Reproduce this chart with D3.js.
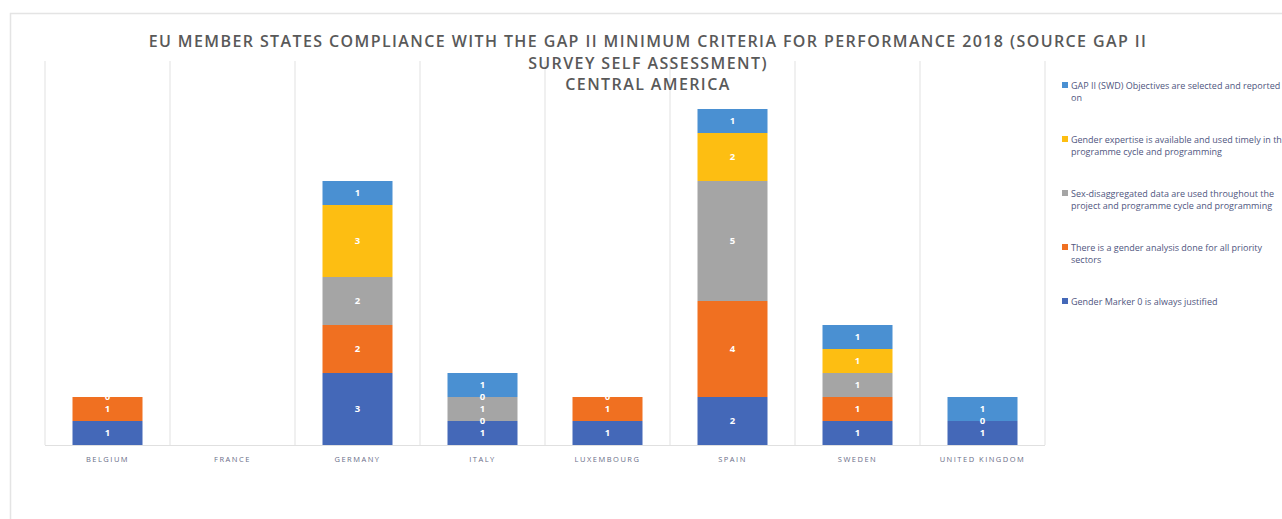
<!DOCTYPE html>
<html>
<head>
<meta charset="utf-8">
<script src="https://cdn.jsdelivr.net/npm/d3@7"></script>
<style>
  body { margin: 0; background: #fff; }
  svg { display: block; }
</style>
</head>
<body>
<svg id="chart" width="1282" height="519"></svg>
<script>
const countries = ["BELGIUM", "FRANCE", "GERMANY", "ITALY", "LUXEMBOURG", "SPAIN", "SWEDEN", "UNITED KINGDOM"];

// null = no answer (no label shown), 0 = zero answer (label shown)
const genderMarker = [1, null, 3, 1, 1, 2, 1, 1];
const genderAnalysis = [1, null, 2, 0, 1, 4, 1, 0];
const sexData = [0, null, 2, 1, 0, 5, 1, null];
const expertise = [null, null, 3, 0, null, 2, 1, null];
const objectives = [null, null, 1, 1, null, 1, 1, 1];

const legendLines = [
    ["Gender Marker 0 is always justified"],
    ["There is a gender analysis done for all priority", "sectors"],
    ["Sex-disaggregated  data are used throughout the", "project and programme cycle and programming"],
    ["Gender expertise is available and used timely in the", "programme cycle and programming"],
    ["GAP II (SWD) Objectives are selected and reported", "on"]
];
const colors = ["#4468b8", "#f07021", "#a5a5a5", "#fdbe12", "#4a90d2"];
const titleLines = [
    "EU MEMBER STATES COMPLIANCE WITH THE GAP II MINIMUM CRITERIA FOR PERFORMANCE 2018 (SOURCE GAP II",
    "SURVEY SELF ASSESSMENT)",
    "CENTRAL AMERICA"
];

const allSeries = [genderMarker, genderAnalysis, sexData, expertise, objectives];
const rows = countries.map((c, i) => {
    const r = { country: c };
    allSeries.forEach((s, k) => { r["s" + k] = s[i]; });
    return r;
});
const keys = allSeries.map((s, k) => "s" + k);

const svg = d3.select("#chart");

// outer chart border
svg.append("rect")
    .attr("x", 10.5).attr("y", 13.5)
    .attr("width", 1290).attr("height", 520)
    .attr("fill", "none")
    .attr("stroke", "#e4e4e4")
    .attr("stroke-width", 1.5);

const plot = { left: 45, right: 1045, top: 61, bottom: 445 };

const x = d3.scaleBand()
    .domain(countries)
    .range([plot.left, plot.right])
    .paddingInner(0.44)
    .paddingOuter(0.22);

const y = d3.scaleLinear()
    .domain([0, 16])
    .range([plot.bottom, plot.top]);

// vertical category gridlines
const step = (plot.right - plot.left) / countries.length;
svg.append("g")
    .selectAll("line")
    .data(d3.range(countries.length + 1))
    .join("line")
    .attr("x1", i => plot.left + i * step)
    .attr("x2", i => plot.left + i * step)
    .attr("y1", plot.top)
    .attr("y2", plot.bottom)
    .attr("stroke", "#e6e6e6")
    .attr("stroke-width", 1.2);

const stack = d3.stack()
    .keys(keys)
    .value((d, k) => d[k] || 0);
const stacked = stack(rows);

const layers = svg.append("g")
    .selectAll("g")
    .data(stacked)
    .join("g")
    .attr("fill", (d, i) => colors[i]);

layers.selectAll("rect")
    .data(d => d)
    .join("rect")
    .attr("x", d => x(d.data.country))
    .attr("width", x.bandwidth())
    .attr("y", d => y(d[1]))
    .attr("height", d => y(d[0]) - y(d[1]));

// data labels
const labels = svg.append("g")
    .attr("font-family", "'Open Sans', sans-serif")
    .attr("font-size", 9.5)
    .attr("font-weight", 700)
    .attr("fill", "#ffffff")
    .attr("text-anchor", "middle");

stacked.forEach((layer, k) => {
    labels.selectAll(null)
        .data(layer.filter(d => d.data[keys[k]] !== null))
        .join("text")
        .attr("x", d => x(d.data.country) + x.bandwidth() / 2)
        .attr("y", d => y((d[0] + d[1]) / 2))
        .attr("dy", "0.35em")
        .text(d => d.data[keys[k]]);
});

// baseline
svg.append("line")
    .attr("x1", plot.left).attr("x2", plot.right)
    .attr("y1", plot.bottom + 0.5).attr("y2", plot.bottom + 0.5)
    .attr("stroke", "#e0e0e0")
    .attr("stroke-width", 1.2);

// x axis
const xAxis = svg.append("g")
    .attr("transform", `translate(0,${plot.bottom})`)
    .call(d3.axisBottom(x).tickSize(0).tickPadding(12));
xAxis.select(".domain").remove();
xAxis.selectAll("text")
    .attr("font-family", "'Open Sans', sans-serif")
    .attr("font-size", 7.5)
    .attr("letter-spacing", "1.5px")
    .attr("fill", "#6a6e88");

// title
svg.append("g")
    .selectAll("text")
    .data(titleLines)
    .join("text")
    .attr("x", 648)
    .attr("y", (d, i) => 47 + i * 21.5)
    .attr("text-anchor", "middle")
    .attr("font-family", "'Open Sans', sans-serif")
    .attr("font-size", 16)
    .attr("font-weight", 600)
    .attr("letter-spacing", "1.4px")
    .attr("fill", "#595959")
    .text(d => d);

// legend (top item = top series)
const legendY = [89, 143, 197, 251, 305];
const legend = svg.append("g")
    .selectAll("g")
    .data(d3.range(5).reverse())
    .join("g")
    .attr("transform", (k, i) => `translate(1062,${legendY[i]})`);

legend.append("rect")
    .attr("x", 0).attr("y", -7)
    .attr("width", 6).attr("height", 6)
    .attr("fill", k => colors[k]);

legend.append("text")
    .attr("x", 9)
    .attr("font-family", "'Open Sans', sans-serif")
    .attr("font-size", 9)
    .attr("fill", "#4f5680")
    .selectAll("tspan")
    .data(k => legendLines[k])
    .join("tspan")
    .attr("x", 9)
    .attr("dy", (d, i) => i === 0 ? 0 : 12)
    .text(d => d);
</script>
</body>
</html>
